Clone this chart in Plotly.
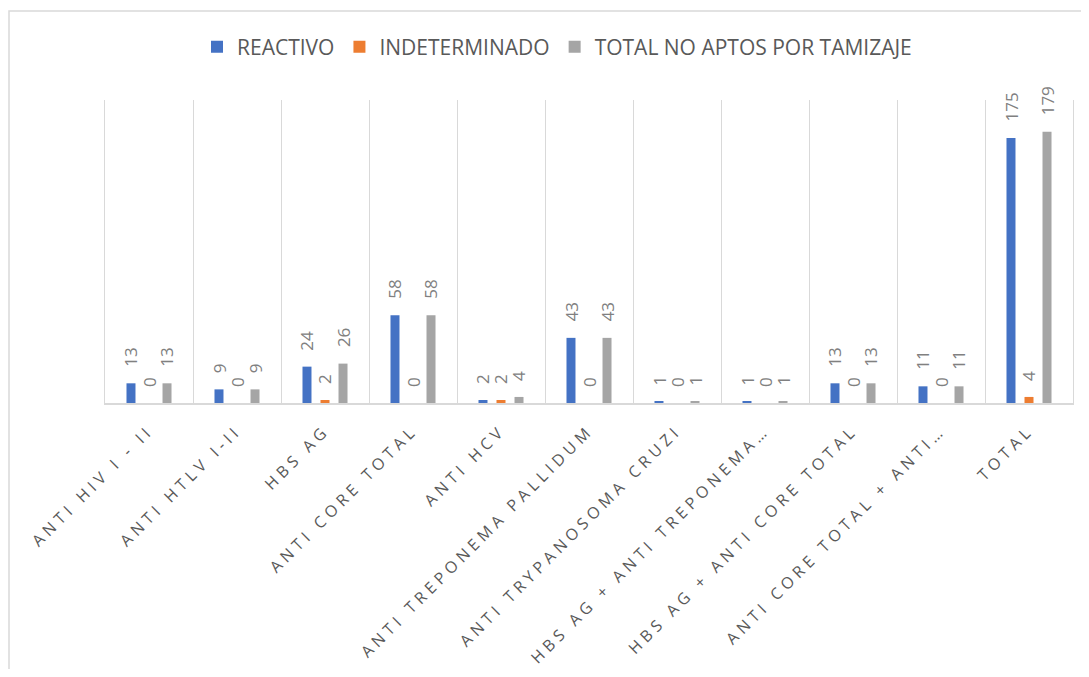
import plotly.graph_objects as go

categories = [
    "ANTI HIV I - II",
    "ANTI HTLV I-II",
    "HBS AG",
    "ANTI CORE TOTAL",
    "ANTI HCV",
    "ANTI TREPONEMA PALLIDUM",
    "ANTI TRYPANOSOMA CRUZI",
    "HBS AG + ANTI TREPONEMA…",
    "HBS AG + ANTI CORE TOTAL",
    "ANTI CORE TOTAL + ANTI…",
    "TOTAL",
]
reactivo = [13, 9, 24, 58, 2, 43, 1, 1, 13, 11, 175]
indeterminado = [0, 0, 2, 0, 2, 0, 0, 0, 0, 0, 4]
total_no_aptos = [13, 9, 26, 58, 4, 43, 1, 1, 13, 11, 179]

series = [
    ("REACTIVO", reactivo, "#4472C4"),
    ("INDETERMINADO", indeterminado, "#ED7D31"),
    ("TOTAL NO APTOS POR TAMIZAJE", total_no_aptos, "#A5A5A5"),
]

fig = go.Figure()
for name, vals, color in series:
    fig.add_trace(go.Bar(
        x=categories, y=vals, name=name,
        marker=dict(color=color, line=dict(width=0)),
    ))

# data labels, rotated, above each bar
offsets = [-18, 0, 18]
annotations = []
for (name, vals, color), dx in zip(series, offsets):
    for c, v in zip(categories, vals):
        annotations.append(dict(
            x=c, y=v, xref="x", yref="y", text=str(v), showarrow=False,
            textangle=-90, xanchor="center", yanchor="bottom",
            xshift=dx, yshift=14,
            font=dict(family="Open Sans", size=17, color="#808080"),
        ))

ticktext = ['<span style="letter-spacing:4.5px">%s</span>' % c for c in categories]

W, H = 1073, 661
fig.update_layout(
    width=W, height=H,
    margin=dict(l=97, r=8, t=92, b=266, autoexpand=False),
    paper_bgcolor="white", plot_bgcolor="white",
    barmode="group", bargap=0.386, bargroupgap=0.5,
    showlegend=True,
    legend=dict(
        orientation="h", x=549 / W, xanchor="center", xref="container",
        y=1 - 39 / H, yref="container", yanchor="middle",
        font=dict(family="Open Sans", size=21, color="#595959"),
    ),
    annotations=annotations,
    xaxis=dict(
        type="category", range=[-0.5, 10.5], automargin=False,
        tickson="boundaries", showgrid=True, gridcolor="#d9d9d9", gridwidth=1,
        showline=True, linecolor="#d9d9d9", linewidth=1.5,
        ticks="", tickangle=-45, ticklabelstandoff=10,
        tickvals=categories, ticktext=ticktext,
        tickfont=dict(family="Open Sans", size=16, color="#595959"),
    ),
    yaxis=dict(
        range=[0, 200], automargin=False, showticklabels=False, ticks="",
        showgrid=False, zeroline=False,
        showline=True, mirror=True, linecolor="#d9d9d9", linewidth=1,
    ),
    shapes=[dict(
        type="rect", xref="paper", yref="paper",
        x0=(1 - 97) / 968, x1=(1100 - 97) / 968,
        y0=(395 - 700) / 303, y1=(395 - 3) / 303,
        line=dict(color="#d9d9d9", width=1.5), fillcolor="rgba(0,0,0,0)",
        layer="below",
    )],
)

fig.write_html("out.html")
